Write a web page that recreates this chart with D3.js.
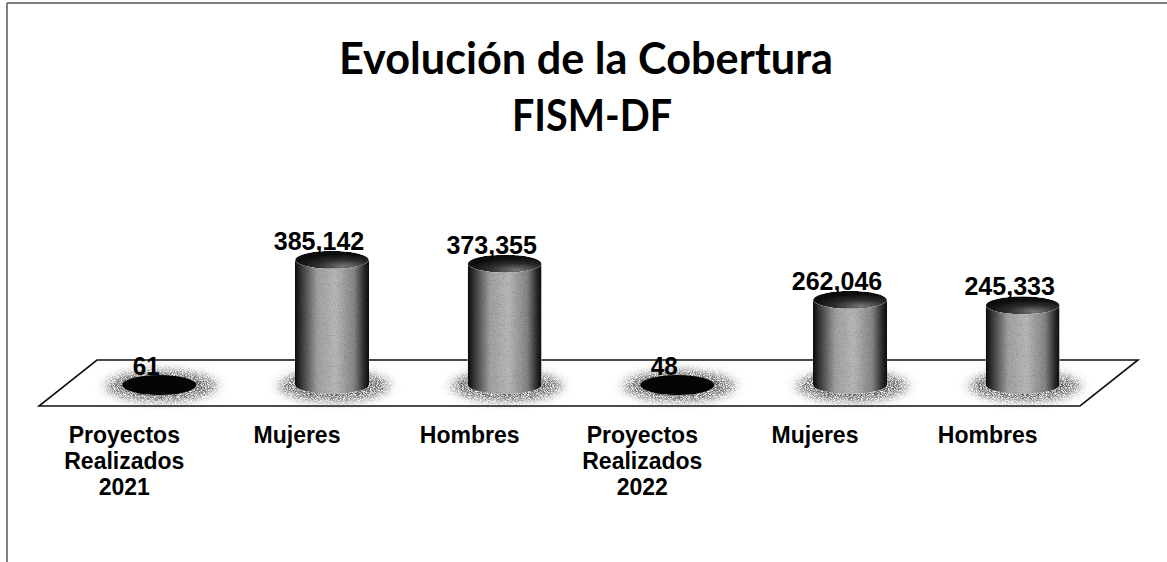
<!DOCTYPE html>
<meta charset="utf-8">
<html lang="es">
<head>
<script src="https://d3js.org/d3.v7.min.js"></script>
<style>
  body { margin: 0; background: #fff; }
  svg { display: block; }
</style>
</head>
<body>
<svg></svg>
<script>
// chart data
const categories = [
  ["Proyectos", "Realizados", "2021"],
  ["Mujeres"],
  ["Hombres"],
  ["Proyectos", "Realizados", "2022"],
  ["Mujeres"],
  ["Hombres"]
];
const values = [61, 385142, 373355, 48, 262046, 245333];
const titleLines = ["Evolución de la Cobertura", "FISM-DF"];

let width = 1167, height = 562;
let svg = d3.select("svg").attr("width", width).attr("height", height);

let defs = svg.append("defs");

// cylinder body shading, left/right edges dark
let bodyGrad = defs.append("linearGradient").attr("id", "body")
  .attr("x1", "0%").attr("x2", "100%").attr("y1", "0%").attr("y2", "0%");
[[0, "#0a0a0a"], [0.08, "#333"], [0.3, "#a0a0a0"], [0.55, "#b8b8b8"], [0.8, "#858585"], [0.93, "#2e2e2e"], [1, "#0a0a0a"]]
  .forEach(s => bodyGrad.append("stop").attr("offset", s[0]).attr("stop-color", s[1]));

let topGrad = defs.append("radialGradient").attr("id", "top")
  .attr("cx", "65%").attr("cy", "85%").attr("r", "70%");
[[0, "#7a7a7a"], [0.5, "#2e2e2e"], [1, "#0a0a0a"]]
  .forEach(s => topGrad.append("stop").attr("offset", s[0]).attr("stop-color", s[1]));

// grainy print texture
let grain = defs.append("filter").attr("id", "grain")
  .attr("x", "-10%").attr("y", "-10%").attr("width", "120%").attr("height", "120%");
grain.append("feTurbulence").attr("type", "fractalNoise").attr("baseFrequency", 1.1)
  .attr("numOctaves", 2).attr("seed", 4).attr("result", "noise");
grain.append("feColorMatrix").attr("in", "noise").attr("type", "saturate").attr("values", 0).attr("result", "gray");
let ct = grain.append("feComponentTransfer").attr("in", "gray").attr("result", "soft");
["feFuncR", "feFuncG", "feFuncB"].forEach(f => ct.append(f).attr("type", "linear").attr("slope", 1.4).attr("intercept", 0.3));
ct.append("feFuncA").attr("type", "linear").attr("slope", 0).attr("intercept", 1);
grain.append("feBlend").attr("in", "SourceGraphic").attr("in2", "soft").attr("mode", "multiply").attr("result", "mix");
grain.append("feComposite").attr("in", "mix").attr("in2", "SourceGraphic").attr("operator", "in");

// speckled halo at the base
let glow = defs.append("filter").attr("id", "glow")
  .attr("x", "-50%").attr("y", "-100%").attr("width", "200%").attr("height", "300%");
glow.append("feGaussianBlur").attr("stdDeviation", "6 4").attr("result", "b");
glow.append("feTurbulence").attr("type", "fractalNoise").attr("baseFrequency", 1.3)
  .attr("numOctaves", 1).attr("seed", 9).attr("result", "n");
glow.append("feColorMatrix").attr("in", "n").attr("type", "matrix")
  .attr("values", "0 0 0 0 0  0 0 0 0 0  0 0 0 0 0  3 0 0 0 -0.9").attr("result", "dots");
glow.append("feComposite").attr("in", "b").attr("in2", "dots").attr("operator", "in");

// page frame (scanned border)
svg.append("line").attr("x1", 7).attr("x2", width).attr("y1", 3).attr("y2", 3)
  .attr("stroke", "#555").attr("stroke-width", 1.5);
svg.append("line").attr("x1", 7).attr("x2", 7).attr("y1", 3).attr("y2", height)
  .attr("stroke", "#555").attr("stroke-width", 1.5);

// title
let title = svg.append("g").attr("font-family", "Lato, 'Open Sans', sans-serif")
  .attr("font-weight", "bold").attr("font-size", 44).attr("text-anchor", "middle");
title.append("text").attr("x", 586).attr("y", 74).attr("textLength", 494)
  .attr("lengthAdjust", "spacingAndGlyphs").text(titleLines[0]);
title.append("text").attr("x", 592).attr("y", 131).attr("textLength", 160)
  .attr("lengthAdjust", "spacingAndGlyphs").text(titleLines[1]);

// scales
let x = d3.scaleBand().domain(d3.range(values.length)).range([73, 1109]);
let y = d3.scaleLinear().domain([0, 400000]).range([385, 255]);
let cx = i => x(i) + x.bandwidth() / 2;

// floor
let floor = [[97, 360], [1138, 360], [1080, 406], [39, 406]];
svg.append("path").attr("d", d3.line()(floor) + "Z")
  .attr("fill", "#fff").attr("stroke", "#111").attr("stroke-width", 1.6)
  .attr("stroke-linejoin", "miter");

let rx = 37, ry = 9;

let bars = svg.append("g").selectAll("g").data(values).join("g")
  .attr("transform", (d, i) => `translate(${cx(i)},0)`);

// fuzzy shadow around base
bars.append("ellipse").attr("cx", 2).attr("cy", y(0) + 1).attr("rx", rx + 18).attr("ry", ry + 7)
  .attr("fill", "#555").attr("filter", "url(#glow)");

// body: side rect + bottom half ellipse
bars.append("path")
  .attr("d", d => {
    let t = y(d), b = y(0);
    return `M${-rx},${t} L${-rx},${b} A${rx},${ry} 0 0 0 ${rx},${b} L${rx},${t} Z`;
  })
  .attr("fill", "url(#body)").attr("filter", "url(#grain)");

// top cap
bars.append("ellipse").attr("cx", 0).attr("cy", d => y(d)).attr("rx", rx).attr("ry", d => d < 1000 ? ry + 1 : ry)
  .attr("fill", d => d < 1000 ? "#050505" : "url(#top)")
  .attr("filter", d => d < 1000 ? null : "url(#grain)");

// value labels
let fmt = d3.format(",");
bars.append("text").attr("x", -13).attr("y", d => y(d) - 10)
  .attr("text-anchor", "middle").attr("font-family", "'Liberation Sans', Arial, sans-serif")
  .attr("font-weight", "bold").attr("font-size", 25)
  .attr("textLength", d => fmt(d).length * 13.5 - (fmt(d).includes(",") ? 4 : 0))
  .attr("lengthAdjust", "spacingAndGlyphs")
  .attr("fill", "#000").text(d => fmt(d));

// category labels
let cats = svg.append("g").selectAll("text").data(categories).join("text")
  .attr("x", (d, i) => cx(i) - 35).attr("y", 443)
  .attr("text-anchor", "middle").attr("font-family", "'Liberation Sans', Arial, sans-serif")
  .attr("font-weight", "bold").attr("font-size", 23);
cats.selectAll("tspan").data(d => d).join("tspan")
  .attr("x", function () { return d3.select(this.parentNode).attr("x"); })
  .attr("dy", (d, j) => j === 0 ? 0 : 26)
  .text(d => d);
</script>
</body>
</html>
